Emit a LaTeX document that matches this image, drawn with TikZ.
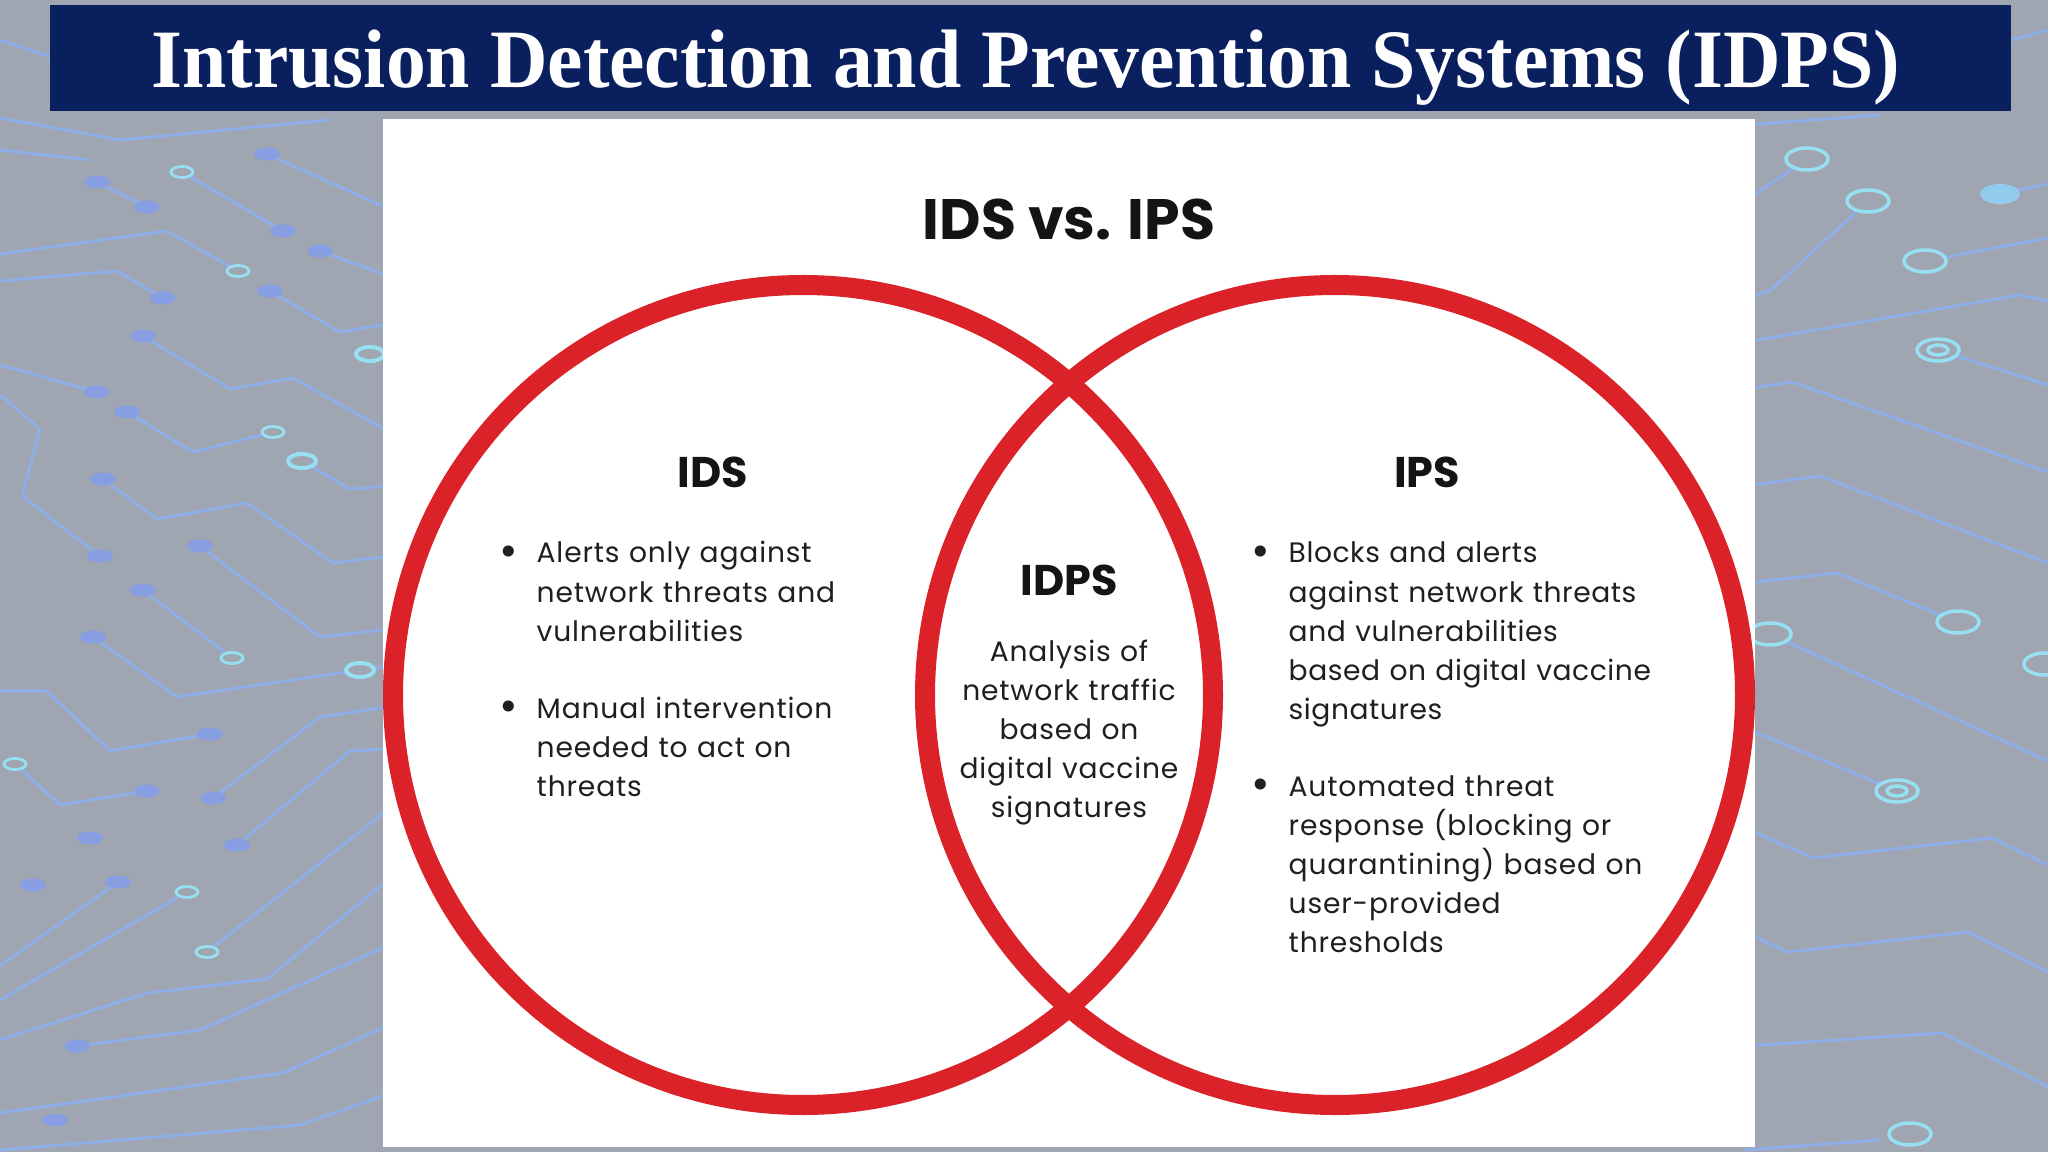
\documentclass[tikz,border=0pt]{standalone}
\usepackage{fontspec}
\setmainfont{Poppins}
\newfontfamily\serifttl{Liberation Serif}
\usepackage{graphicx}
\definecolor{navy}{RGB}{10,31,94}
\definecolor{bggray}{RGB}{160,165,178}
\definecolor{tracecol}{RGB}{142,174,232}
\definecolor{dotcol}{RGB}{136,158,226}
\definecolor{glowcol}{RGB}{150,224,242}
\definecolor{vennred}{RGB}{218,34,40}
\newcommand{\bodysz}{\fontsize{8pt}{11.1pt}\selectfont\addfontfeatures{LetterSpace=3}}
\newcommand{\bigbul}{\llap{\raisebox{-1.1pt}{\scalebox{1.6}{•}}\hspace{0.19cm}}}
\tikzset{
  trace/.style={draw=tracecol, line width=0.03cm, line join=round},
  ringm/.style={draw=glowcol, line width=0.028cm, fill=bggray},
  vennring/.style={draw=vennred, line width=0.2cm},
  bodyblock/.style={font=\bodysz, text width=4.3cm, align=left, inner sep=0pt, anchor=base west, text=black!88},
  midblock/.style={font=\bodysz, text width=2.8cm, align=center, inner sep=0pt, anchor=base, text=black!88},
  headtxt/.style={font=\fontsize{12.2pt}{14pt}\selectfont\bfseries, inner sep=0pt, anchor=base, text=black!92},
}
\begin{document}
\begin{tikzpicture}[x=0.01cm,y=-0.01cm]
\useasboundingbox (0,0) rectangle (2048,1152);
% background
\fill[bggray] (0,0) rectangle (2048,1152);
% ---- left circuit traces
\draw[trace] (267,154) -- (400,214);
\draw[trace] (182,172) -- (283,231);
\draw[trace] (97,182) -- (147,207);
\draw[trace] (0,254) -- (167,231) -- (238,271);
\draw[trace] (320,251) -- (400,280);
\draw[trace] (0,281) -- (117,271) -- (163,298);
\draw[trace] (270,291) -- (340,332) -- (400,322);
\draw[trace] (143,336) -- (230,389) -- (293,378) -- (400,438);
\draw[trace] (0,365) -- (97,392);
\draw[trace] (127,412) -- (193,452) -- (273,432);
\draw[trace] (302,461) -- (350,489) -- (400,485);
\draw[trace] (0,395) -- (40,429) -- (22,496) -- (100,556);
\draw[trace] (103,479) -- (157,519) -- (247,503) -- (333,563) -- (400,555);
\draw[trace] (200,546) -- (320,637) -- (400,628);
\draw[trace] (143,590) -- (232,658);
\draw[trace] (93,637) -- (177,697) -- (360,670) -- (400,664);
\draw[trace] (0,691) -- (47,691) -- (110,751) -- (210,734);
\draw[trace] (15,764) -- (60,805) -- (147,791);
\draw[trace] (213,798) -- (320,717) -- (400,705);
\draw[trace] (237,845) -- (350,751) -- (400,748);
\draw[trace] (118,882) -- (0,966);
\draw[trace] (187,892) -- (0,1000);
\draw[trace] (207,952) -- (267,905) -- (400,800);
\draw[trace] (0,1040) -- (147,993) -- (267,979) -- (400,870);
\draw[trace] (77,1046) -- (200,1030) -- (400,940);
\draw[trace] (0,1113) -- (283,1073) -- (400,1020);
\draw[trace] (0,1150) -- (300,1125) -- (400,1090);
\draw[trace] (0,40) -- (60,60);
\draw[trace] (0,118) -- (120,140) -- (330,120);
\draw[trace] (0,150) -- (90,160);
% left rings
\foreach \p in {(182,172),(238,271),(273,432),(232,658),(15,764),(187,892),(207,952)}
  \draw[ringm] \p ellipse [x radius=11, y radius=5.5];
\foreach \p in {(370,354),(302,461),(360,670)}
  \draw[ringm, line width=0.04cm] \p ellipse [x radius=14, y radius=7];
% left dots
\foreach \p in {(267,154),(283,231),(97,182),(147,207),(320,251),(163,298),(270,291),(143,336),(97,392),(127,412),(100,556),(103,479),(200,546),(143,590),(93,637),(210,734),(147,791),(213,798),(237,845),(90,838),(33,885),(118,882),(77,1046),(55,1120)}
  \fill[dotcol] \p ellipse [x radius=13, y radius=6.5];
% ---- right circuit traces
\draw[trace] (1807,159) -- (1745,201);
\draw[trace] (1868,201) -- (1770,291) -- (1745,298);
\draw[trace] (2000,194) -- (2048,184);
\draw[trace] (1925,261) -- (2048,238);
\draw[trace] (1745,342) -- (2020,295) -- (2048,301);
\draw[trace] (1938,350) -- (2048,385);
\draw[trace] (1745,389) -- (1792,382) -- (2048,472);
\draw[trace] (1745,486) -- (1820,476) -- (2048,563);
\draw[trace] (1745,583) -- (1837,573) -- (1958,622);
\draw[trace] (1770,634) -- (2048,761);
\draw[trace] (1745,728) -- (1897,791);
\draw[trace] (1745,828) -- (1813,858) -- (1993,838) -- (2048,865);
\draw[trace] (1745,932) -- (1787,952) -- (1968,932) -- (2048,972);
\draw[trace] (1745,1046) -- (1943,1033) -- (2048,1087);
\draw[trace] (1745,1150) -- (1880,1140);
\draw[trace] (2012,40) -- (2048,30);
\draw[trace] (1745,125) -- (1880,115);
% right rings
\foreach \p in {(1807,159),(1868,201),(1925,261),(1958,622),(1770,634),(2045,664),(1910,1134)}
  \draw[ringm, line width=0.035cm] \p ellipse [x radius=21, y radius=11];
\foreach \p in {(1938,350),(1897,791)}
  {\draw[ringm, line width=0.035cm] \p ellipse [x radius=21, y radius=11];
   \draw[glowcol, line width=0.035cm] \p ellipse [x radius=10, y radius=5];}
\fill[glowcol!70!dotcol] (2000,194) ellipse [x radius=20, y radius=10];
% ---- title bar
\fill[navy] (50,5) rectangle (2011,111);
\node[font=\serifttl\fontsize{23.6pt}{26pt}\selectfont\bfseries, text=white, inner sep=0pt, anchor=base]
  (maintitle) at (1026,88) {\scalebox{0.96}[1]{Intrusion Detection and Prevention Systems (IDPS)}};
% ---- white panel
\fill[white] (383,119) rectangle (1755,1147);
% ---- venn circles
\draw[vennring] (803,695) circle [radius=410];
\draw[vennring] (1335,695) circle [radius=410];
% ---- texts
\node[font=\fontsize{16.2pt}{19pt}\selectfont\bfseries, inner sep=0pt, anchor=base, text=black!92]
  (vstitle) at (1069,240) {IDS vs. IPS};
\node[headtxt] (idshead) at (713,488) {IDS};
\node[headtxt] (ipshead) at (1427,488) {IPS};
\node[headtxt] (idpshead) at (1069,595) {IDPS};
\node[bodyblock] (ids1) at (536,563) {\bigbul Alerts only against\\network threats and\\vulnerabilities};
\node[bodyblock] (ids2) at (536,718) {\bigbul Manual intervention\\needed to act on\\threats};
\node[midblock] (idpsbody) at (1069,661) {Analysis of\\network traffic\\based on\\digital vaccine\\signatures};
\node[bodyblock, font=\bodysz\addfontfeatures{LetterSpace=2}] (ips1) at (1288,563) {\bigbul Blocks and alerts\\against network threats\\and vulnerabilities\\based on digital vaccine\\signatures};
\node[bodyblock] (ips2) at (1288,796) {\bigbul Automated threat\\response (blocking or\\quarantining) based on\\user-provided\\thresholds};
\end{tikzpicture}
\end{document}
